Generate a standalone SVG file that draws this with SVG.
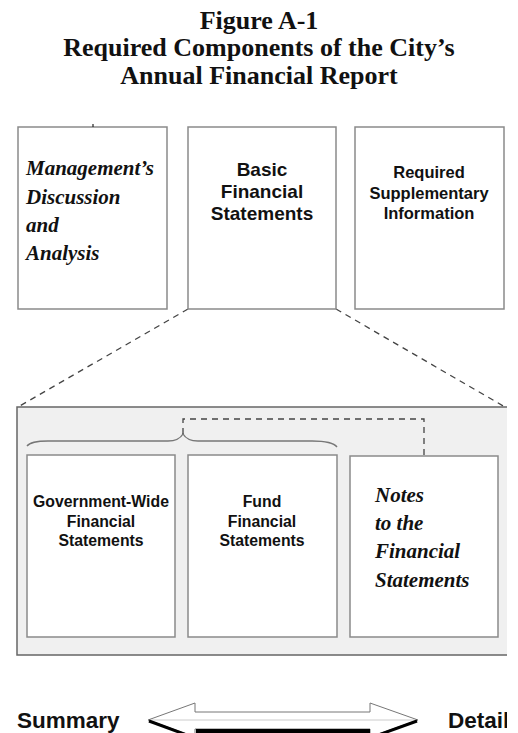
<svg xmlns="http://www.w3.org/2000/svg" width="518" height="733" viewBox="0 0 518 733">
  <defs>
    <style>
      .title { font-family: "Liberation Serif", "Times New Roman", serif; font-weight: bold; font-size: 26px; fill: #111; text-anchor: middle; }
      .sans { font-family: "Liberation Sans", Arial, sans-serif; font-weight: bold; fill: #111; text-anchor: middle; }
      .script { font-family: "Liberation Serif", "Times New Roman", serif; font-style: italic; font-weight: bold; font-size: 21px; fill: #111; }
      .box { fill: #fff; stroke: #8a8a8a; stroke-width: 1.5; }
      .dash { fill: none; stroke: #444; stroke-width: 1.3; stroke-dasharray: 6 5; }
      .panel-edge { fill: none; stroke: #666; stroke-width: 1.5; }
    </style>
    <clipPath id="page">
      <rect x="0" y="0" width="507" height="733"/>
    </clipPath>
  </defs>
  <rect width="518" height="733" fill="#fff"/>

  <!-- heading -->
  <g id="heading">
    <text class="title" x="259" y="29">Figure A-1</text>
    <text class="title" x="259" y="56">Required Components of the City’s</text>
    <text class="title" x="259" y="84">Annual Financial Report</text>
  </g>

  <g clip-path="url(#page)">
    <!-- connectors: zoom lines from Basic Financial Statements to the detail panel -->
    <g id="connectors">
      <line class="dash" x1="188" y1="309" x2="18" y2="407"/>
      <line class="dash" x1="336" y1="309" x2="505" y2="407"/>
    </g>

    <!-- top row of report components -->
    <g id="mda">
      <rect class="box" x="18" y="127" width="149" height="182"/>
      <line x1="93" y1="124" x2="93" y2="127" stroke="#222" stroke-width="1.2"/>
      <text class="script" x="26" y="175">Management’s</text>
      <text class="script" x="26" y="204">Discussion</text>
      <text class="script" x="26" y="232">and</text>
      <text class="script" x="26" y="260">Analysis</text>
    </g>
    <g id="basic">
      <rect class="box" x="188" y="127" width="148" height="182"/>
      <text class="sans" font-size="19" x="262" y="176">Basic</text>
      <text class="sans" font-size="19" x="262" y="198">Financial</text>
      <text class="sans" font-size="19" x="262" y="220">Statements</text>
    </g>
    <g id="rsi">
      <rect class="box" x="355" y="127" width="149" height="182"/>
      <text class="sans" font-size="16.5" x="429" y="178">Required</text>
      <text class="sans" font-size="16.5" x="429" y="199">Supplementary</text>
      <text class="sans" font-size="16.5" x="429" y="219">Information</text>
    </g>

    <!-- detail panel of the basic financial statements -->
    <g id="panel">
      <rect x="17" y="407" width="490" height="248" fill="#f0f0f0"/>
      <polyline class="panel-edge" points="507,407 17,407 17,655 507,655"/>
      <!-- brace over the two statement groups -->
      <path d="M27,446 C30,442 38,441 48,441 L168,441 C175,441 180,439 183,434 C186,439 191,441 198,441 L312,441 C326,441 334,443 337,447" fill="none" stroke="#777" stroke-width="1.4"/>
      <path d="M183,434 L183,419 L424,419 L424,456" class="dash" stroke-width="1.2"/>
    </g>
    <g id="gov-wide">
      <rect class="box" x="27" y="455" width="148" height="182"/>
      <text class="sans" font-size="15.8" x="101" y="507">Government-Wide</text>
      <text class="sans" font-size="15.8" x="101" y="527">Financial</text>
      <text class="sans" font-size="15.8" x="101" y="546">Statements</text>
    </g>
    <g id="fund">
      <rect class="box" x="188" y="455" width="149" height="182"/>
      <text class="sans" font-size="15.8" x="262" y="507">Fund</text>
      <text class="sans" font-size="15.8" x="262" y="527">Financial</text>
      <text class="sans" font-size="15.8" x="262" y="546">Statements</text>
    </g>
    <g id="notes">
      <rect class="box" x="350" y="456" width="148" height="181"/>
      <text class="script" x="375" y="502">Notes</text>
      <text class="script" x="375" y="530">to the</text>
      <text class="script" x="375" y="558">Financial</text>
      <text class="script" x="375" y="587">Statements</text>
    </g>

    <!-- summary to detail scale -->
    <g id="scale">
      <text class="sans" font-size="22.5" x="17" y="728" style="text-anchor:start">Summary</text>
      <text class="sans" font-size="22.5" x="448" y="728" style="text-anchor:start">Detail</text>
      <polygon points="148,720 195,703 195,712 370,712 370,703 418,720 370,737 370,729 195,729 195,737" fill="#fff" stroke="#777" stroke-width="1"/>
      <line x1="151" y1="720" x2="415" y2="720" stroke="#ccc" stroke-width="1"/>
      <polyline points="149,721 195,738" fill="none" stroke="#000" stroke-width="3"/>
      <line x1="196" y1="731" x2="370" y2="731" stroke="#000" stroke-width="4"/>
      <polyline points="370,738 417,721" fill="none" stroke="#000" stroke-width="3"/>
    </g>
  </g>
</svg>
